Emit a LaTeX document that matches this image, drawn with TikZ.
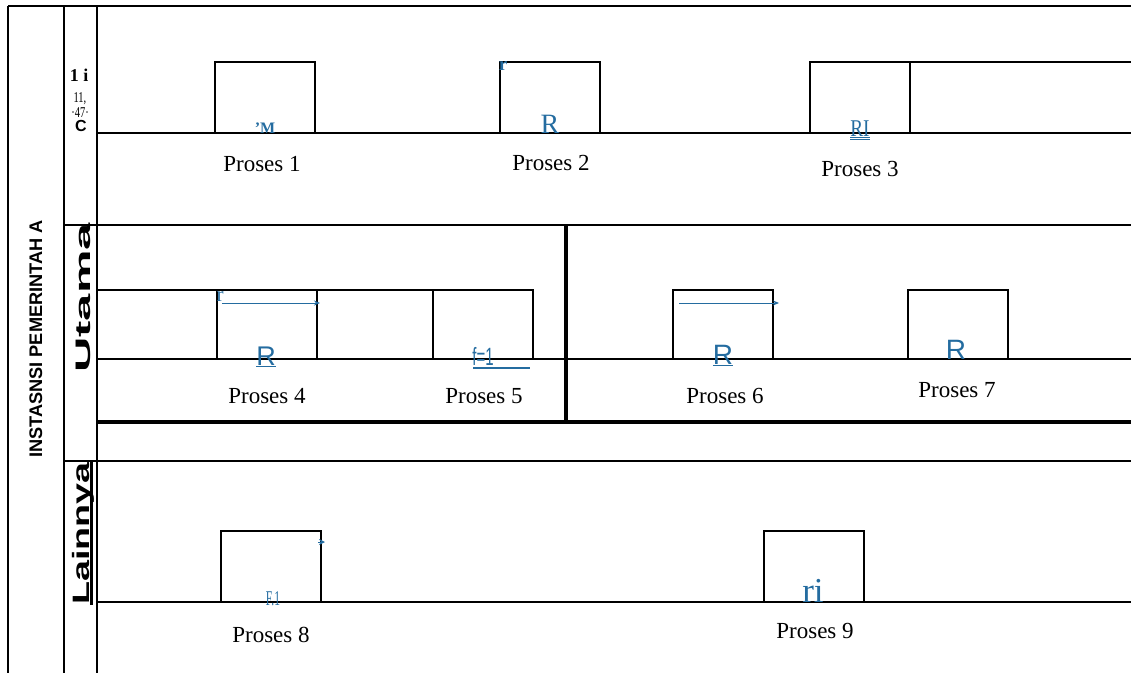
\documentclass[tikz,border=0pt]{standalone}
\usepackage{graphicx}
\usepackage{fontspec}
\setmainfont{Liberation Serif}
\setsansfont{Liberation Sans}
\usetikzlibrary{arrows.meta}
\definecolor{lblue}{RGB}{36,108,160}
\begin{document}
\begin{tikzpicture}[x=1pt,y=-1pt,
  rule/.style={line width=1.2pt},
  heavy/.style={line width=4.5pt},
  procbox/.style={draw, line width=1.2pt, inner sep=0pt, outer sep=0pt, anchor=south west, minimum width=100pt},
  toprow/.style={minimum height=71pt},
  midrow/.style={minimum height=69pt},
  caption/.style={font=\fontsize{23}{23}\selectfont, anchor=base, inner sep=0pt},
  bmark/.style={text=lblue, anchor=base, inner sep=0pt},
  smalltxt/.style={anchor=base, inner sep=0pt},
  bluearrow/.style={draw=lblue, line width=0.9pt, -{Stealth[length=6pt,width=5pt]}},
]
\useasboundingbox (0,0) rectangle (1131,673);

% frame and lanes
\draw[rule] (8,6) -- (1131,6);
\draw[rule] (8,6) -- (8,673);
\draw[rule] (64,6) -- (64,673);
\draw[rule] (97,6) -- (97,673);
\draw[rule] (64,225) -- (1131,225);
\draw[rule] (64,461) -- (1131,461);
\draw[rule] (97,133) -- (1131,133);
\draw[rule] (97,359) -- (1131,359);
\draw[rule] (97,602) -- (1131,602);

% boxes
\node[procbox, toprow] (box1) at (215,133) {};
\node[procbox, toprow] (box2) at (500,133) {};
\node[procbox, toprow] (box3) at (810,133) {};
\node[procbox, midrow] (box4) at (217,359) {};
\node[procbox, midrow] (box5) at (433,359) {};
\node[procbox, midrow] (box6) at (673,359) {};
\node[procbox, midrow] (box7) at (908,359) {};
\node[procbox, toprow] (box8) at (221,602) {};
\node[procbox, toprow] (box9) at (764,602) {};

\coordinate (r3end) at (1131,62);
\coordinate (m4start) at (97,290);
\draw[rule] (box3.north east) -- (r3end);
\draw[rule] (m4start) -- (box4.north west);
\draw[rule] (box4.north east) -- (box5.north west);

\draw[heavy] (566,225) -- (566,422);
\draw[heavy] (97,422) -- (1131,422);

% captions
\node[caption] (c1) at (262,171) {Proses 1};
\node[caption] (c2) at (551,170) {Proses 2};
\node[caption] (c3) at (860,176) {Proses 3};
\node[caption] (c4) at (267,403) {Proses 4};
\node[caption] (c5) at (484,403) {Proses 5};
\node[caption] (c6) at (725,403) {Proses 6};
\node[caption] (c7) at (957,397) {Proses 7};
\node[caption] (c8) at (271,642) {Proses 8};
\node[caption] (c9) at (815,638) {Proses 9};

% blue marks
\node[bmark, font=\fontsize{16}{16}\selectfont\bfseries] (m1) at (265,133) {'M};
\node[bmark, font=\fontsize{19}{19}\selectfont\bfseries] (m2) at (503,70) {r};
\node[bmark, font=\fontsize{28}{28}\selectfont] (m3) at (550,133) {R};
\node[bmark, font=\fontsize{24}{24}\selectfont] (m4) at (860,136) {\underline{\underline{\scalebox{0.8}[1]{RI}}}};
\node[bmark, font=\fontsize{21}{21}\selectfont] (m5) at (220,301) {r};
\coordinate (a4s) at (222,303);
\coordinate (a4e) at (320,303);
\draw[bluearrow] (a4s) -- (a4e);
\node[bmark, font=\sffamily\fontsize{27}{27}\selectfont] (m6) at (266,365) {\underline{R}};
\coordinate (d4s) at (277,367);
\coordinate (d4e) at (314,367);
\draw[lblue, line width=0.8pt, double distance=1.2pt] (d4s) -- (d4e);
\node[bmark, font=\sffamily\fontsize{25}{25}\selectfont] (m7) at (483,365) {\scalebox{0.6}[1]{f=1}};
\coordinate (u5s) at (473,368);
\coordinate (u5e) at (530,368);
\draw[lblue, line width=1.6pt] (u5s) -- (u5e);
\node[bmark, font=\sffamily\fontsize{28}{28}\selectfont] (m8) at (723,364) {\underline{R}};
\coordinate (a6s) at (679,303);
\coordinate (a6e) at (779,303);
\draw[bluearrow] (a6s) -- (a6e);
\node[bmark, font=\sffamily\fontsize{28}{28}\selectfont] (m9) at (956,359) {R};
\coordinate (a8s) at (318,542);
\coordinate (a8e) at (325,542);
\draw[lblue, line width=1pt, -{Stealth[length=6pt,width=6pt]}] (a8s) -- (a8e);
\node[bmark, font=\fontsize{21}{21}\selectfont] (m10) at (273,605) {\scalebox{0.55}[1]{F.1}};
\node[bmark, font=\fontsize{35}{35}\selectfont] (m11) at (813,602) {ri};

% second column texts
\node[smalltxt, font=\fontsize{18}{18}\selectfont\bfseries] (t1) at (79,81) {1 i};
\node[smalltxt, font=\fontsize{15}{15}\selectfont] (t2) at (80,102) {\scalebox{0.7}[1]{11,}};
\node[smalltxt, font=\fontsize{15}{15}\selectfont] (t3) at (80,117) {\scalebox{0.7}[1]{·47·}};
\node[smalltxt, font=\sffamily\bfseries\fontsize{16}{16}\selectfont] (t4) at (81,131) {C};

% rotated lane titles
\node[rotate=90, anchor=base, inner sep=0pt, font=\sffamily\bfseries\fontsize{18.2}{18.2}\selectfont] (inst) at (42,339) {INSTASNSI PEMERINTAH A};
\node[rotate=90, anchor=base, inner sep=0pt] (utama) at (90,298) {\scalebox{2.33}[1]{\sffamily\bfseries\fontsize{21}{21}\selectfont Utama}};
\node[rotate=90, anchor=base, inner sep=0pt] (lain) at (89,533.5) {\scalebox{1.59}[1]{\sffamily\bfseries\fontsize{23.7}{23.7}\selectfont Lainnya}};
\draw[line width=2.2pt] ([xshift=2.5pt]lain.base west) -- ([xshift=2.5pt]lain.base east);
\end{tikzpicture}
\end{document}
